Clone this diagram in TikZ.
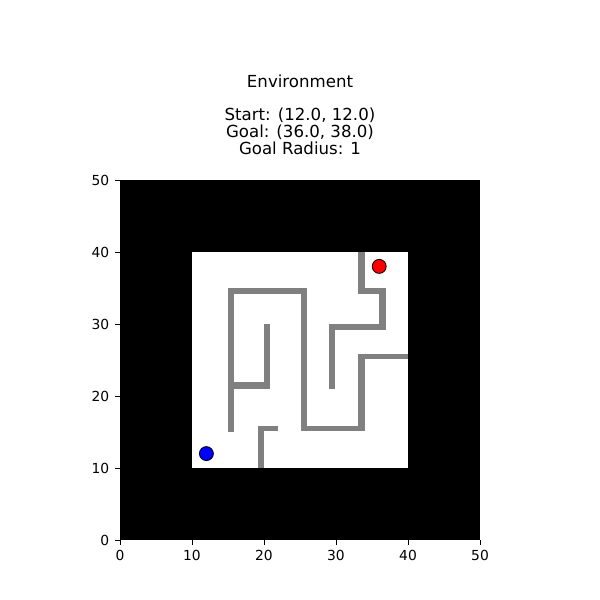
\documentclass[tikz,border=0pt]{standalone}
\usepackage{fontspec}
\setmainfont{DejaVu Sans}
\definecolor{mur}{RGB}{128,128,128}
\definecolor{depart}{RGB}{0,0,255}
\definecolor{but}{RGB}{255,0,0}
\usepackage{tikz}
\usetikzlibrary{positioning}

\begin{document}
\begin{tikzpicture}[x=0.18288cm,y=0.18288cm,
	tick/.style={black,line width=0.6pt},
	ticklab/.style={font=\fontsize{10}{12}\selectfont,inner sep=0pt},
	marqueur/.style={circle,draw=black,line width=0.6pt,minimum size=10.1pt,inner sep=0pt}]
	%% cadre de la figure (600x600)
	\useasboundingbox (-16.6667,-8.3333) rectangle (66.6667,75);
	
	%% titre
	\node[font=\fontsize{12}{12.1}\selectfont,align=center,anchor=base,inner sep=0pt] (titre) at (25,53.6)
	{Environment\\ \\Start: (12.0, 12.0)\\Goal: (36.0, 38.0)\\Goal Radius: 1};
	
	%% fond noir + zone libre
	\fill[black] (0,0) rectangle (50,50);
	\fill[white] (10,10) rectangle (40,40);
	
	%% murs du labyrinthe
	\foreach \xa/\ya/\xb/\yb in {33.1/34.1/34/40, 33.1/34.1/36.9/35, 36/29.1/36.9/35,
		29/29.1/36.9/30, 29/21/29.9/30, 33.1/25.1/40/25.9, 33.1/15.1/34/25.9,
		25.1/15.1/34/15.9, 25.1/15.1/26/35, 15/34.1/26/35, 15/15/15.9/35,
		15/21/20.9/21.9, 20/21/20.9/30, 19.1/10/20/15.9, 19.1/15.1/21.9/15.9}
	\fill[mur] (\xa,\ya) rectangle (\xb,\yb);
	
	%% depart et but
	\node[marqueur,fill=depart] (start) at (12,12) {};
	\node[marqueur,fill=but] (goal) at (36,38) {};
	
	%% axes
	\foreach \v in {0,10,...,50}{
		\draw[tick] (\v,0) -- (\v,-0.68);
		\node[ticklab,anchor=north] (xt\v) at (\v,-1.45) {\v};
		\draw[tick] (0,\v) -- (-0.68,\v);
		\node[ticklab,anchor=east] (yt\v) at (-1.45,\v) {\v};
	}
\end{tikzpicture}
\end{document}
